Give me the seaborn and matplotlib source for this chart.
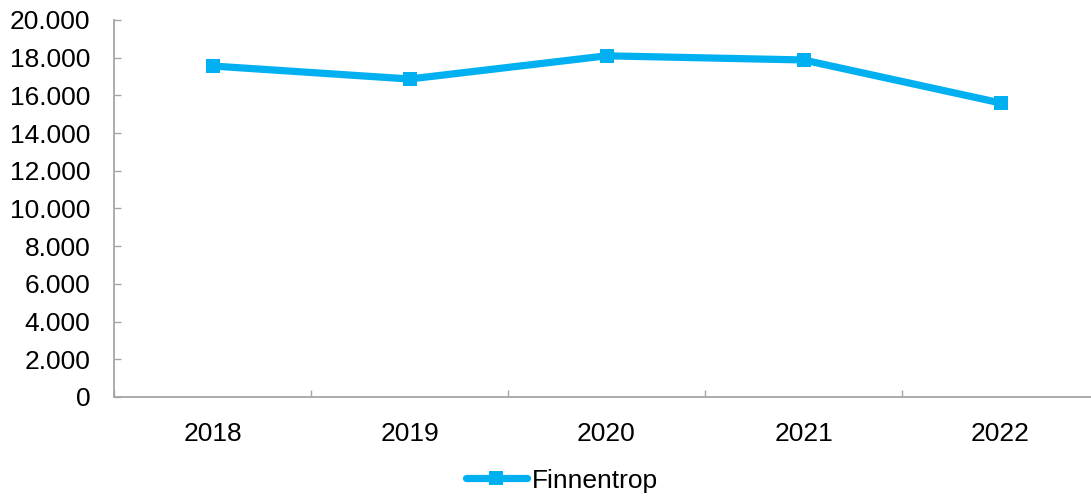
import pandas as pd
import seaborn as sns
import matplotlib.pyplot as plt
from matplotlib.ticker import FuncFormatter, MultipleLocator

years = ["2018", "2019", "2020", "2021", "2022"]
finnentrop = [17560, 16870, 18100, 17880, 15600]
series_name = "Finnentrop"

df = pd.DataFrame({"year": years, "value": finnentrop, "series": series_name})

sns.set_style("white")
plt.rcParams["font.family"] = ["Liberation Sans", "DejaVu Sans"]
plt.rcParams["text.color"] = "black"
plt.rcParams["xtick.labelcolor"] = "black"
plt.rcParams["ytick.labelcolor"] = "black"

fig = plt.figure(figsize=(10.91, 4.99), dpi=100)
ax = fig.add_axes([114 / 1091, 102 / 499, 985 / 1091, 377 / 499])

sns.lineplot(
    data=df,
    x="year",
    y="value",
    hue="series",
    palette=["#00B0F0"],
    marker="s",
    markersize=10.5,
    markeredgewidth=0,
    linewidth=5.2,
    ax=ax,
    legend=True,
)

ax.set_xlim(-0.5, 4.5)
ax.set_ylim(0, 20000)
ax.yaxis.set_major_locator(MultipleLocator(2000))
ax.yaxis.set_major_formatter(FuncFormatter(lambda v, p: f"{v:,.0f}".replace(",", ".")))
ax.set_xticks([i - 0.5 for i in range(len(years) + 1)], minor=True)
ax.set_xlabel("")
ax.set_ylabel("")

for side in ["top", "right"]:
    ax.spines[side].set_visible(False)
for side in ["left", "bottom"]:
    ax.spines[side].set_color("#A6A6A6")
    ax.spines[side].set_linewidth(1.3)

ax.tick_params(axis="y", which="major", direction="in", length=5, width=1, color="#A6A6A6",
               labelsize=19, pad=17, left=True, labelcolor="black")
ax.tick_params(axis="x", which="major", length=0, labelsize=19, pad=18, labelcolor="black")
ax.tick_params(axis="x", which="minor", direction="in", length=5, width=1, color="#A6A6A6", bottom=True)

handles, labels = ax.get_legend_handles_labels()
ax.legend_.remove()
fig.legend(handles, labels, loc="lower center", bbox_to_anchor=(0.515, -0.035), frameon=False,
           fontsize=19, handlelength=2.3, handletextpad=0.2, labelcolor="black")

fig.savefig("out.png", dpi=100)
